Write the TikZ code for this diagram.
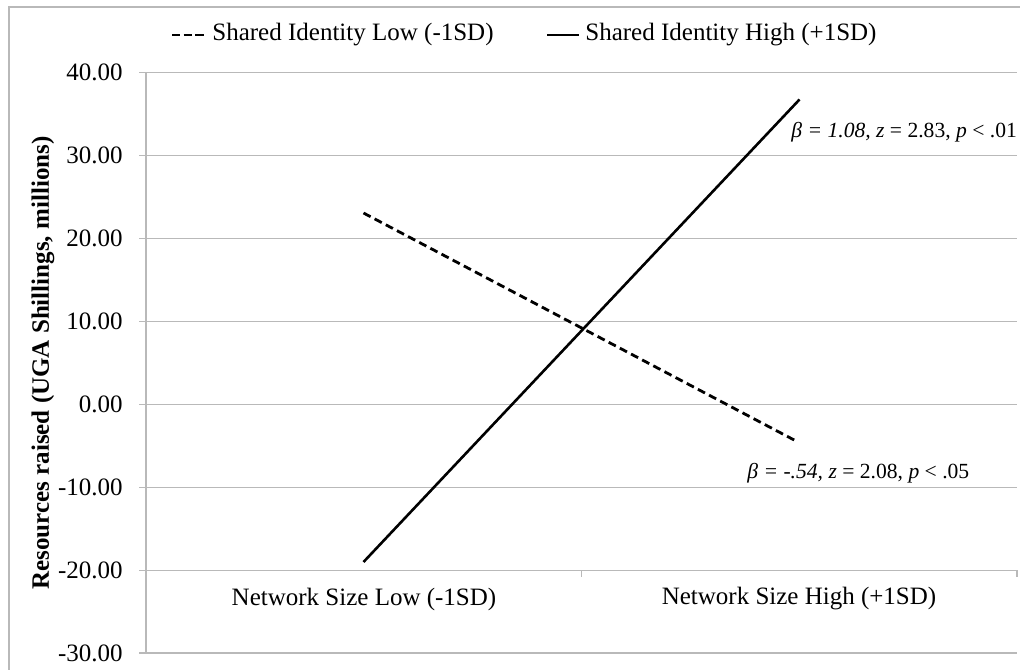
\documentclass[tikz,border=0pt]{standalone}
\usepackage{fontspec}
\setmainfont{Liberation Serif}
\definecolor{gridgray}{RGB}{185,185,185}
\begin{document}
\begin{tikzpicture}[x=0.5pt,y=-0.5pt,
  grid/.style={draw=gridgray, line width=0.65pt},
  frame/.style={draw=gridgray, line width=0.75pt},
  lbl/.style={inner sep=0pt, font=\fontsize{12.5}{15}\selectfont},
  ann/.style={inner sep=0pt, anchor=west, font=\fontsize{10.8}{13}\selectfont},
  ttl/.style={inner sep=0pt, font=\fontsize{12.5}{15}\selectfont\bfseries},
  series/.style={line width=1.3pt, black},
  dashser/.style={line width=1.4pt, black, dash pattern=on 4pt off 2.3pt}]
\useasboundingbox (0,0) rectangle (1020,669);
\clip (0,0) rectangle (1020,669);
\fill[white] (0,0) rectangle (1020,669);
% chart frame
\draw[frame] (9,690) -- (9,7) -- (1040,7);
% gridlines and value labels
\foreach \v/\t [count=\i] in {40/40.00,30/30.00,20/20.00,10/10.00,0/0.00,-10/-10.00,-20/-20.00,-30/-30.00}{
  \pgfmathsetmacro\yy{404.4-8.29*\v}
  \draw[grid] (139,\yy) -- (1017,\yy);
  \node[lbl, anchor=east] (tick\i) at (123,\yy) {\t};
}
% axes
\draw[grid] (146,72.6) -- (146,653.3);
\foreach \xx in {146,581.5,1017}{
  \draw[grid] (\xx,570.2) -- (\xx,576.5);
}
% category labels
\node[lbl] (catlow) at (364,599) {Network Size Low (-1SD)};
\node[lbl] (cathigh) at (799,599) {Network Size High (+1SD)};
% axis title
\node[ttl, rotate=90] (ytitle) at (43,363) {Resources raised (UGA Shillings, millions)};
% data
\coordinate (sLow) at (363.5,562);
\coordinate (sHigh) at (799.5,99.5);
\coordinate (dLow) at (363.5,213);
\coordinate (dHigh) at (797,441.5);
\draw[series] (sLow) -- (sHigh);
\draw[dashser] (dLow) -- (dHigh);
% annotations
\node[ann] (annHigh) at (791,132) {\textit{β = 1.08,} \textit{z} = 2.83, \textit{p} < .01};
\node[ann] (annLow) at (747,473) {\textit{β = -.54,} \textit{z} = 2.08, \textit{p} < .05};
% legend
\coordinate (lgd1) at (172,35);
\coordinate (lgd2) at (204,35);
\draw[dashser, dash pattern=on 4.2pt off 1.6pt] (lgd1) -- (lgd2);
\node[lbl, anchor=west] (lgdLow) at (212,35) {Shared Identity Low (-1SD)};
\coordinate (lgs1) at (547,35);
\coordinate (lgs2) at (579,35);
\draw[series] (lgs1) -- (lgs2);
\node[lbl, anchor=west] (lgdHigh) at (585,35) {Shared Identity High (+1SD)};
\end{tikzpicture}
\end{document}
